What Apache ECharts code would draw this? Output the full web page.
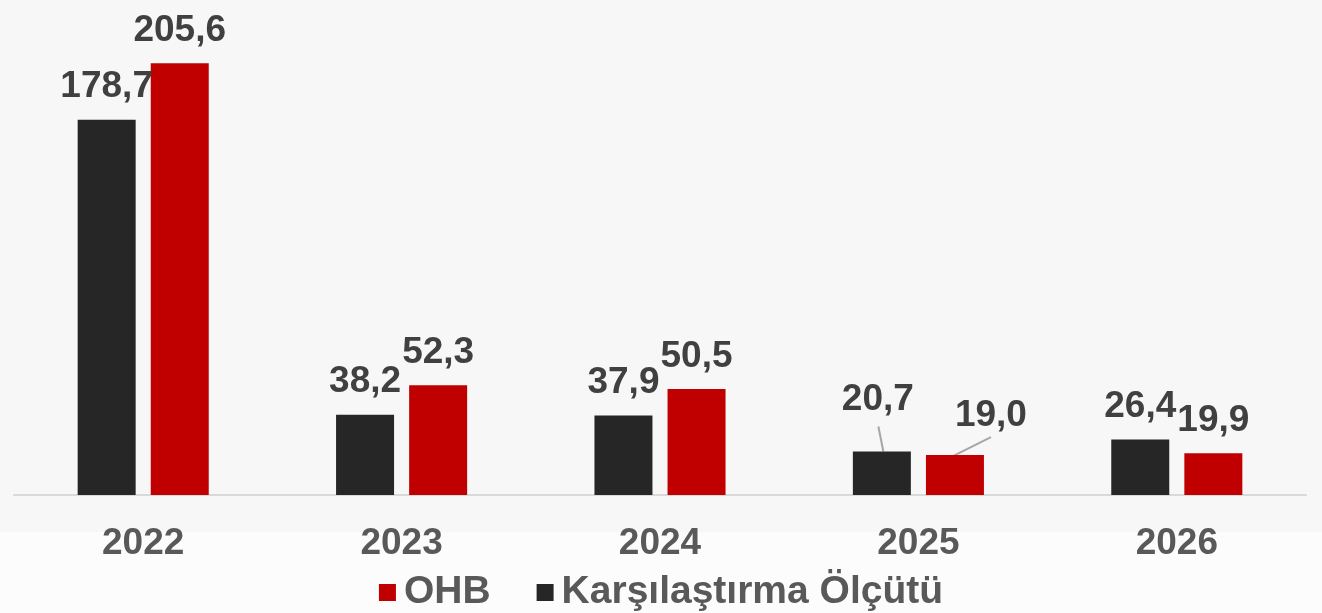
<!DOCTYPE html>
<html>
<head>
<meta charset="utf-8">
<script src="https://cdn.jsdelivr.net/npm/echarts@6/dist/echarts.min.js"></script>
<style>
  html, body { margin: 0; padding: 0; background: #fcfcfc; }
  #chart { width: 1322px; height: 613px; }
</style>
</head>
<body>
<div id="chart"></div>
<script>
var years = ['2022', '2023', '2024', '2025', '2026'];
var benchmark = [178.7, 38.2, 37.9, 20.7, 26.4];   // Karşılaştırma Ölçütü
var ohb = [205.6, 52.3, 50.5, 19.0, 19.9];

var fmt = function (p) { return p.value.toFixed(1).replace('.', ','); };

var labelStyle = {
  show: true,
  position: 'top',
  distance: 14,
  formatter: fmt,
  fontFamily: 'Liberation Sans, Arial, sans-serif',
  fontWeight: 'bold',
  fontSize: 37,
  color: '#404040'
};

var chart = echarts.init(document.getElementById('chart'));
chart.setOption({
  backgroundColor: '#f7f7f7',
  animation: false,
  grid: { left: 14, right: 16, top: 33, bottom: 118 },
  legend: {
    data: ['OHB', 'Karşılaştırma Ölçütü'],
    bottom: -4,
    left: 'center',
    itemWidth: 17,
    itemHeight: 17,
    itemGap: 46,
    icon: 'rect',
    textStyle: {
      fontFamily: 'Liberation Sans, Arial, sans-serif',
      fontWeight: 'bold',
      fontSize: 39,
      color: '#595959',
      padding: [0, 0, 0, 3]
    }
  },
  xAxis: {
    type: 'category',
    data: years,
    axisTick: { show: false },
    axisLine: { lineStyle: { color: '#d9d9d9', width: 2 } },
    axisLabel: {
      margin: 30,
      fontFamily: 'Liberation Sans, Arial, sans-serif',
      fontWeight: 'bold',
      fontSize: 37,
      color: '#595959'
    }
  },
  yAxis: {
    type: 'value',
    min: 0,
    max: 220,
    show: false,
    splitLine: { show: false }
  },
  series: [
    {
      name: 'Karşılaştırma Ölçütü',
      type: 'bar',
      data: benchmark,
      barWidth: 58,
      barGap: '26%',
      itemStyle: { color: '#262626' },
      label: labelStyle,
      labelLayout: function (p) {
        if (p.dataIndex === 3) return { dx: -4, dy: -19 };
      }
    },
    {
      name: 'OHB',
      type: 'bar',
      data: ohb,
      barWidth: 58,
      barGap: '26%',
      itemStyle: { color: '#c00000' },
      label: labelStyle,
      labelLayout: function (p) {
        if (p.dataIndex === 3) return { dx: 36, dy: -7 };
      }
    }
  ]
});

// leader lines for the moved 2025 labels, anchored on the laid-out bars
function barTop(seriesIndex, idx) {
  var l = chart.getModel().getSeriesByIndex(seriesIndex).getData().getItemLayout(idx);
  return [l.x + l.width / 2, Math.min(l.y, l.y + l.height)];
}
var t0 = barTop(0, 3), t1 = barTop(1, 3);
var lineStyle = { stroke: '#a6a6a6', lineWidth: 2 };
chart.setOption({
  graphic: [
    { type: 'rect', left: 0, top: 532, z: -10, silent: true,
      shape: { width: 1322, height: 81 }, style: { fill: '#fcfcfc' } },
    { type: 'line', silent: true, style: lineStyle,
      shape: { x1: t0[0] - 3.5, y1: t0[1] - 25, x2: t0[0] + 1.5, y2: t0[1] } },
    { type: 'line', silent: true, style: lineStyle,
      shape: { x1: t1[0] + 36, y1: t1[1] - 18, x2: t1[0] - 2, y2: t1[1] + 1 } }
  ]
});
</script>
</body>
</html>
